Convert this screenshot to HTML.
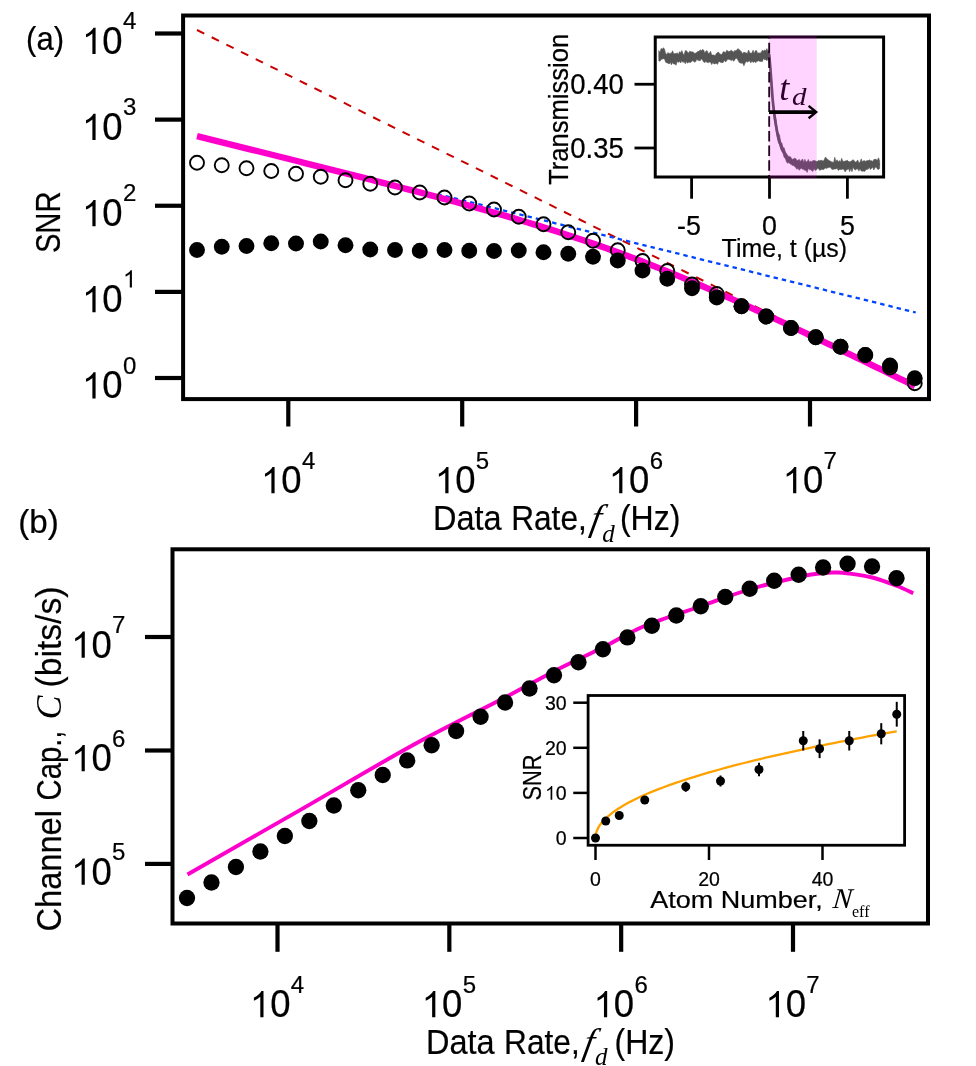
<!DOCTYPE html>
<html><head><meta charset="utf-8"><title>SNR and channel capacity vs data rate</title>
<style>
html,body{margin:0;padding:0;background:#fff;}
body{width:976px;height:1066px;overflow:hidden;font-family:"Liberation Sans",sans-serif;}
svg{display:block;will-change:transform;}
text{fill:#000;stroke:#000;stroke-width:0.22px;}
text.s{stroke-width:0;}
</style></head><body>
<svg width="976" height="1066" viewBox="0 0 976 1066">
<rect width="976" height="1066" fill="#fff"/>
<line x1="197" y1="30" x2="915" y2="385.59" stroke="#c80000" stroke-width="2" stroke-dasharray="8.1 8.28"/>
<line x1="915.75" y1="312.5" x2="440" y2="194.69" stroke="#0044ff" stroke-width="2.3" stroke-dasharray="4.4 4.05" stroke-dashoffset="1.6"/>
<polyline fill="none" stroke="#ff00cc" stroke-width="6.4" points="197,136.08 203,137.57 209,139.06 215,140.56 221,142.05 227,143.54 233,145.04 239,146.53 245,148.03 251,149.52 257,151.02 263,152.52 269,154.01 275,155.51 281,157.01 287,158.52 293,160.02 299,161.52 305,163.03 311,164.54 317,166.05 323,167.56 329,169.07 335,170.59 341,172.11 347,173.63 353,175.15 359,176.68 365,178.21 371,179.74 377,181.28 383,182.82 389,184.37 395,185.92 401,187.48 407,189.04 413,190.61 419,192.18 425,193.76 431,195.35 437,196.94 443,198.55 449,200.16 455,201.78 461,203.42 467,205.06 473,206.72 479,208.38 485,210.07 491,211.76 497,213.47 503,215.19 509,216.94 515,218.69 521,220.47 527,222.27 533,224.08 539,225.92 545,227.78 551,229.66 557,231.56 563,233.49 569,235.44 575,237.42 581,239.43 587,241.46 593,243.52 599,245.61 605,247.73 611,249.88 617,252.05 623,254.26 629,256.49 635,258.76 641,261.05 647,263.37 653,265.73 659,268.11 665,270.51 671,272.95 677,275.41 683,277.9 689,280.42 695,282.95 701,285.52 707,288.1 713,290.71 719,293.34 725,295.99 731,298.66 737,301.35 743,304.06 749,306.78 755,309.52 761,312.27 767,315.04 773,317.82 779,320.62 785,323.43 791,326.24 797,329.07 803,331.91 809,334.76 815,337.62 821,340.48 827,343.35 833,346.23 839,349.12 845,352.01 851,354.91 857,357.81 863,360.72 869,363.63 875,366.55 881,369.47 887,372.4 893,375.33 899,378.26 905,381.19 911,384.13 915,386.09"/>
<circle cx="197" cy="162.75" r="7.0" fill="none" stroke="#000" stroke-width="1.9"/>
<circle cx="221.75" cy="165.25" r="7.0" fill="none" stroke="#000" stroke-width="1.9"/>
<circle cx="246.5" cy="168.25" r="7.0" fill="none" stroke="#000" stroke-width="1.9"/>
<circle cx="271.25" cy="171" r="7.0" fill="none" stroke="#000" stroke-width="1.9"/>
<circle cx="296" cy="173.75" r="7.0" fill="none" stroke="#000" stroke-width="1.9"/>
<circle cx="320.75" cy="176.75" r="7.0" fill="none" stroke="#000" stroke-width="1.9"/>
<circle cx="345.5" cy="180.25" r="7.0" fill="none" stroke="#000" stroke-width="1.9"/>
<circle cx="370.25" cy="183.75" r="7.0" fill="none" stroke="#000" stroke-width="1.9"/>
<circle cx="395" cy="187.5" r="7.0" fill="none" stroke="#000" stroke-width="1.9"/>
<circle cx="419.75" cy="192.5" r="7.0" fill="none" stroke="#000" stroke-width="1.9"/>
<circle cx="444.5" cy="197.5" r="7.0" fill="none" stroke="#000" stroke-width="1.9"/>
<circle cx="469.25" cy="203.5" r="7.0" fill="none" stroke="#000" stroke-width="1.9"/>
<circle cx="494" cy="209.5" r="7.0" fill="none" stroke="#000" stroke-width="1.9"/>
<circle cx="518.75" cy="216.75" r="7.0" fill="none" stroke="#000" stroke-width="1.9"/>
<circle cx="543.5" cy="224.25" r="7.0" fill="none" stroke="#000" stroke-width="1.9"/>
<circle cx="568.25" cy="232.25" r="7.0" fill="none" stroke="#000" stroke-width="1.9"/>
<circle cx="593" cy="240.75" r="7.0" fill="none" stroke="#000" stroke-width="1.9"/>
<circle cx="617.75" cy="250.25" r="7.0" fill="none" stroke="#000" stroke-width="1.9"/>
<circle cx="642.5" cy="261" r="7.0" fill="none" stroke="#000" stroke-width="1.9"/>
<circle cx="667.25" cy="271" r="7.0" fill="none" stroke="#000" stroke-width="1.9"/>
<circle cx="692" cy="284.5" r="7.0" fill="none" stroke="#000" stroke-width="1.9"/>
<circle cx="716.75" cy="294" r="7.0" fill="none" stroke="#000" stroke-width="1.9"/>
<circle cx="741.5" cy="306.25" r="7.0" fill="none" stroke="#000" stroke-width="1.9"/>
<circle cx="766.25" cy="316.5" r="7.0" fill="none" stroke="#000" stroke-width="1.9"/>
<circle cx="791" cy="328" r="7.0" fill="none" stroke="#000" stroke-width="1.9"/>
<circle cx="815.75" cy="337.25" r="7.0" fill="none" stroke="#000" stroke-width="1.9"/>
<circle cx="840.5" cy="346.75" r="7.0" fill="none" stroke="#000" stroke-width="1.9"/>
<circle cx="865.25" cy="355" r="7.0" fill="none" stroke="#000" stroke-width="1.9"/>
<circle cx="890" cy="367.5" r="7.0" fill="none" stroke="#000" stroke-width="1.9"/>
<circle cx="914.75" cy="383.25" r="7.0" fill="none" stroke="#000" stroke-width="1.9"/>
<circle cx="197" cy="250" r="7.95" fill="#000"/>
<circle cx="221.75" cy="246.75" r="7.95" fill="#000"/>
<circle cx="246.5" cy="246" r="7.95" fill="#000"/>
<circle cx="271.25" cy="243.25" r="7.95" fill="#000"/>
<circle cx="296" cy="243.5" r="7.95" fill="#000"/>
<circle cx="320.75" cy="241.5" r="7.95" fill="#000"/>
<circle cx="345.5" cy="245.25" r="7.95" fill="#000"/>
<circle cx="370.25" cy="249.5" r="7.95" fill="#000"/>
<circle cx="395" cy="250" r="7.95" fill="#000"/>
<circle cx="419.75" cy="250.75" r="7.95" fill="#000"/>
<circle cx="444.5" cy="250" r="7.95" fill="#000"/>
<circle cx="469.25" cy="250.75" r="7.95" fill="#000"/>
<circle cx="494" cy="251" r="7.95" fill="#000"/>
<circle cx="518.75" cy="250.5" r="7.95" fill="#000"/>
<circle cx="543.5" cy="252.25" r="7.95" fill="#000"/>
<circle cx="568.25" cy="253.75" r="7.95" fill="#000"/>
<circle cx="593" cy="256.75" r="7.95" fill="#000"/>
<circle cx="617.75" cy="260.5" r="7.95" fill="#000"/>
<circle cx="642.5" cy="270.5" r="7.95" fill="#000"/>
<circle cx="667.25" cy="278.75" r="7.95" fill="#000"/>
<circle cx="692" cy="288.25" r="7.95" fill="#000"/>
<circle cx="716.75" cy="297.5" r="7.95" fill="#000"/>
<circle cx="741.5" cy="306.25" r="7.95" fill="#000"/>
<circle cx="766.25" cy="316.5" r="7.95" fill="#000"/>
<circle cx="791" cy="328" r="7.95" fill="#000"/>
<circle cx="815.75" cy="337.25" r="7.95" fill="#000"/>
<circle cx="840.5" cy="346.75" r="7.95" fill="#000"/>
<circle cx="865.25" cy="355" r="7.95" fill="#000"/>
<circle cx="890" cy="365.5" r="7.95" fill="#000"/>
<circle cx="914.75" cy="378.25" r="7.95" fill="#000"/>
<rect x="183.1" y="15.5" width="745.9" height="383.6" fill="none" stroke="#000" stroke-width="4.0"/>
<line x1="155" y1="378" x2="183.1" y2="378" stroke="#000" stroke-width="4.2" />
<path transform="translate(82 398.4) scale(0.01782 -0.01782)" d="M763 0H583V1147Q518 1085 412.5 1023Q307 961 223 930V1104Q374 1175 487 1276Q600 1377 647 1472H763Z"/>
<text x="102.29" y="398.4" font-family='"Liberation Sans", sans-serif' font-size="37.96" textLength="20.29" lengthAdjust="spacingAndGlyphs">0</text>
<text x="122.89" y="373.7" font-family='"Liberation Sans", sans-serif' font-size="24">0</text>
<line x1="155" y1="291.88" x2="183.1" y2="291.88" stroke="#000" stroke-width="4.2" />
<path transform="translate(82 312.27) scale(0.01782 -0.01782)" d="M763 0H583V1147Q518 1085 412.5 1023Q307 961 223 930V1104Q374 1175 487 1276Q600 1377 647 1472H763Z"/>
<text x="102.29" y="312.27" font-family='"Liberation Sans", sans-serif' font-size="37.96" textLength="20.29" lengthAdjust="spacingAndGlyphs">0</text>
<path transform="translate(122.89 287.57) scale(0.01184 -0.01184)" d="M763 0H583V1147Q518 1085 412.5 1023Q307 961 223 930V1104Q374 1175 487 1276Q600 1377 647 1472H763Z"/>
<line x1="155" y1="205.75" x2="183.1" y2="205.75" stroke="#000" stroke-width="4.2" />
<path transform="translate(82 226.15) scale(0.01782 -0.01782)" d="M763 0H583V1147Q518 1085 412.5 1023Q307 961 223 930V1104Q374 1175 487 1276Q600 1377 647 1472H763Z"/>
<text x="102.29" y="226.15" font-family='"Liberation Sans", sans-serif' font-size="37.96" textLength="20.29" lengthAdjust="spacingAndGlyphs">0</text>
<text x="122.89" y="201.45" font-family='"Liberation Sans", sans-serif' font-size="24">2</text>
<line x1="155" y1="119.62" x2="183.1" y2="119.62" stroke="#000" stroke-width="4.2" />
<path transform="translate(82 140.03) scale(0.01782 -0.01782)" d="M763 0H583V1147Q518 1085 412.5 1023Q307 961 223 930V1104Q374 1175 487 1276Q600 1377 647 1472H763Z"/>
<text x="102.29" y="140.03" font-family='"Liberation Sans", sans-serif' font-size="37.96" textLength="20.29" lengthAdjust="spacingAndGlyphs">0</text>
<text x="122.89" y="115.33" font-family='"Liberation Sans", sans-serif' font-size="24">3</text>
<line x1="155" y1="33.5" x2="183.1" y2="33.5" stroke="#000" stroke-width="4.2" />
<path transform="translate(82 53.9) scale(0.01782 -0.01782)" d="M763 0H583V1147Q518 1085 412.5 1023Q307 961 223 930V1104Q374 1175 487 1276Q600 1377 647 1472H763Z"/>
<text x="102.29" y="53.9" font-family='"Liberation Sans", sans-serif' font-size="37.96" textLength="20.29" lengthAdjust="spacingAndGlyphs">0</text>
<text x="122.89" y="29.2" font-family='"Liberation Sans", sans-serif' font-size="24">4</text>
<line x1="288.3" y1="399.1" x2="288.3" y2="426.5" stroke="#000" stroke-width="4.2" />
<path transform="translate(261 493.3) scale(0.01782 -0.01782)" d="M763 0H583V1147Q518 1085 412.5 1023Q307 961 223 930V1104Q374 1175 487 1276Q600 1377 647 1472H763Z"/>
<text x="281.29" y="493.3" font-family='"Liberation Sans", sans-serif' font-size="37.96" textLength="20.29" lengthAdjust="spacingAndGlyphs">0</text>
<text x="301.89" y="468.6" font-family='"Liberation Sans", sans-serif' font-size="24">4</text>
<line x1="462.2" y1="399.1" x2="462.2" y2="426.5" stroke="#000" stroke-width="4.2" />
<path transform="translate(434.9 493.3) scale(0.01782 -0.01782)" d="M763 0H583V1147Q518 1085 412.5 1023Q307 961 223 930V1104Q374 1175 487 1276Q600 1377 647 1472H763Z"/>
<text x="455.19" y="493.3" font-family='"Liberation Sans", sans-serif' font-size="37.96" textLength="20.29" lengthAdjust="spacingAndGlyphs">0</text>
<text x="475.79" y="468.6" font-family='"Liberation Sans", sans-serif' font-size="24">5</text>
<line x1="636.1" y1="399.1" x2="636.1" y2="426.5" stroke="#000" stroke-width="4.2" />
<path transform="translate(608.8 493.3) scale(0.01782 -0.01782)" d="M763 0H583V1147Q518 1085 412.5 1023Q307 961 223 930V1104Q374 1175 487 1276Q600 1377 647 1472H763Z"/>
<text x="629.09" y="493.3" font-family='"Liberation Sans", sans-serif' font-size="37.96" textLength="20.29" lengthAdjust="spacingAndGlyphs">0</text>
<text x="649.69" y="468.6" font-family='"Liberation Sans", sans-serif' font-size="24">6</text>
<line x1="810" y1="399.1" x2="810" y2="426.5" stroke="#000" stroke-width="4.2" />
<path transform="translate(782.7 493.3) scale(0.01782 -0.01782)" d="M763 0H583V1147Q518 1085 412.5 1023Q307 961 223 930V1104Q374 1175 487 1276Q600 1377 647 1472H763Z"/>
<text x="802.99" y="493.3" font-family='"Liberation Sans", sans-serif' font-size="37.96" textLength="20.29" lengthAdjust="spacingAndGlyphs">0</text>
<text x="823.59" y="468.6" font-family='"Liberation Sans", sans-serif' font-size="24">7</text>
<text x="26.1" y="50" font-family='"Liberation Sans", sans-serif' font-size="33.5" textLength="38" lengthAdjust="spacingAndGlyphs">(a)</text>
<text transform="translate(59.5 253.1) rotate(-90)" font-family='"Liberation Sans", sans-serif' font-size="35.7" textLength="61.6" lengthAdjust="spacingAndGlyphs">SNR</text>
<text x="433" y="529.7" font-family='"Liberation Sans", sans-serif' font-size="34.9" textLength="68.7" lengthAdjust="spacingAndGlyphs">Data</text>
<text x="511.2" y="529.7" font-family='"Liberation Sans", sans-serif' font-size="34.9" textLength="75.6" lengthAdjust="spacingAndGlyphs">Rate,</text>
<text transform="translate(589.1 529.7) skewX(-11)" class="s" font-family='"Liberation Serif", serif' font-style="italic" font-size="37">f</text>
<text x="602.2" y="541.5" font-family='"Liberation Serif", serif' font-size="25" class="s" font-style="italic">d</text>
<text x="619.9" y="529.7" font-family='"Liberation Sans", sans-serif' font-size="34.9" textLength="60.5" lengthAdjust="spacingAndGlyphs">(Hz)</text>
<polygon fill="#555" stroke="#555" stroke-width="0.6" stroke-linejoin="round" points="658.8,50.57 659.95,52.56 661.1,48.45 662.25,49.25 663.4,47.71 664.55,49.24 665.7,53.98 666.85,54.2 668,52.41 669.15,53.85 670.3,53.14 671.45,53.19 672.6,50.73 673.75,53.99 674.9,53.38 676.05,53.81 677.2,52.66 678.35,54.5 679.5,51.71 680.65,52.74 681.8,50.56 682.95,53.59 684.1,54.99 685.25,50.64 686.4,50.87 687.55,51.92 688.7,53.25 689.85,50.97 691,52.06 692.15,51.66 693.3,52.19 694.45,53.18 695.6,53.15 696.75,52.41 697.9,51.23 699.05,51.53 700.2,49.79 701.35,50.7 702.5,49.61 703.65,49.97 704.8,53.18 705.95,51.11 707.1,50.76 708.25,53.43 709.4,53.26 710.55,51.24 711.7,55.02 712.85,55.07 714,55.03 715.15,55.75 716.3,53.6 717.45,52.46 718.6,52.16 719.75,53.72 720.9,54.45 722.05,54.3 723.2,51.77 724.35,51.76 725.5,53.08 726.65,50.31 727.8,50.9 728.95,51.68 730.1,51.09 731.25,50.3 732.4,50.98 733.55,52.18 734.7,50.52 735.85,50.75 737,49.72 738.15,48.61 739.3,49.92 740.45,50.71 741.6,52.12 742.75,53.98 743.9,51.97 745.05,52.85 746.2,52.72 747.35,53.83 748.5,50.01 749.65,52.52 750.8,53.3 751.95,53.08 753.1,50.14 754.25,53.43 755.4,50.78 756.55,50.61 757.7,53.57 758.85,52.74 760,53.25 761.15,52.48 762.3,50.24 763.45,51.08 764.6,50.02 765.75,50.81 766.9,48.61 768.05,51.75 769.2,49.8 770.35,65.24 771.5,77.87 772.65,96.55 773.8,106.83 774.95,113.43 776.1,119.84 777.25,129.72 778.4,133.1 779.55,135.1 780.7,142.52 781.85,142.88 783,147.69 784.15,147.67 785.3,151.82 786.45,153.72 787.6,155.16 788.75,156.71 789.9,156.46 791.05,157.47 792.2,159.46 793.35,158.99 794.5,158.22 795.65,158.53 796.8,160.17 797.95,160.6 799.1,159.34 800.25,161.33 801.4,160.22 802.55,159.02 803.7,162.43 804.85,159.32 806,161.9 807.15,161.83 808.3,159.42 809.45,162.05 810.6,161.22 811.75,161.8 812.9,160.52 814.05,160.54 815.2,160.8 816.35,161.38 817.5,161.33 818.65,160.28 819.8,160.85 820.95,160.21 822.1,160.54 823.25,161.27 824.4,159.32 825.55,156.96 826.7,158.85 827.85,159.46 829,160.43 830.15,161.05 831.3,161.72 832.45,161.88 833.6,162.77 834.75,157.22 835.9,161.53 837.05,159.8 838.2,161.95 839.35,160.59 840.5,162.18 841.65,158.34 842.8,161.28 843.95,161.51 845.1,161.05 846.25,160.82 847.4,160.33 848.55,161.53 849.7,161.72 850.85,161.5 852,160.41 853.15,159.82 854.3,160.77 855.45,162.26 856.6,161.52 857.75,159.91 858.9,163.1 860.05,162.34 861.2,158.86 862.35,162 863.5,160.66 864.65,160.71 865.8,161.42 866.95,160.49 868.1,160.82 869.25,159.77 870.4,160.64 871.55,160.64 872.7,161.4 873.85,159.5 875,159.34 876.15,159.33 877.3,160.6 878.45,157.77 879.6,160.75 879.6,168.59 878.45,169.45 877.3,168.88 876.15,167 875,167.39 873.85,170.04 872.7,167.23 871.55,168.16 870.4,169.52 869.25,167.32 868.1,169.15 866.95,169.24 865.8,169.84 864.65,171.42 863.5,171.12 862.35,171.13 861.2,170.94 860.05,168.79 858.9,171.11 857.75,168.84 856.6,169.09 855.45,170.03 854.3,169.28 853.15,167.2 852,171.72 850.85,168.42 849.7,171.77 848.55,168.65 847.4,169.56 846.25,170.02 845.1,171.9 843.95,169.49 842.8,168.99 841.65,169.48 840.5,169.56 839.35,169.45 838.2,170.39 837.05,168 835.9,169.05 834.75,168.89 833.6,169.22 832.45,169.49 831.3,168.8 830.15,166.72 829,167.67 827.85,167.59 826.7,168.56 825.55,168.12 824.4,168.79 823.25,169.67 822.1,169.36 820.95,169.56 819.8,170.43 818.65,168.87 817.5,168.34 816.35,169.97 815.2,170.41 814.05,168.58 812.9,171.47 811.75,170.46 810.6,169.83 809.45,169.53 808.3,168.55 807.15,172.43 806,170.22 804.85,170.54 803.7,169.23 802.55,169.28 801.4,168.13 800.25,169.1 799.1,170.2 797.95,168.13 796.8,169.31 795.65,167.35 794.5,166.57 793.35,165.26 792.2,165.53 791.05,164.33 789.9,163.66 788.75,162.44 787.6,163.31 786.45,161.78 785.3,158.33 784.15,157.49 783,153.39 781.85,151.43 780.7,148.93 779.55,144.3 778.4,142.67 777.25,137.61 776.1,130.71 774.95,123.67 773.8,113.57 772.65,104.49 771.5,86.39 770.35,71.5 769.2,59.01 768.05,58.64 766.9,60.8 765.75,59.53 764.6,59.64 763.45,58.53 762.3,61.66 761.15,61.15 760,61.49 758.85,60.71 757.7,61.06 756.55,61.87 755.4,62.61 754.25,61.5 753.1,62.55 751.95,60.71 750.8,62.93 749.65,60.84 748.5,61.48 747.35,62.12 746.2,61.2 745.05,63.07 743.9,65.86 742.75,63.01 741.6,63.23 740.45,63.06 739.3,62.56 738.15,60.46 737,58.47 735.85,57.9 734.7,59.94 733.55,61.33 732.4,59.53 731.25,60.67 730.1,59.6 728.95,59.54 727.8,58.97 726.65,60.75 725.5,62.02 724.35,60.02 723.2,62.48 722.05,62.61 720.9,62.62 719.75,61.66 718.6,61.8 717.45,64.41 716.3,63.23 715.15,63.78 714,63.99 712.85,62.4 711.7,64.6 710.55,62.24 709.4,61.99 708.25,62.79 707.1,62.28 705.95,61.62 704.8,62.49 703.65,61.99 702.5,60.05 701.35,58.68 700.2,60.79 699.05,60.56 697.9,60.32 696.75,59.29 695.6,61.8 694.45,62.11 693.3,61.06 692.15,60.83 691,62.26 689.85,62.46 688.7,61.97 687.55,63.26 686.4,61.49 685.25,63.81 684.1,61.42 682.95,62.52 681.8,60.38 680.65,63 679.5,61.29 678.35,62.52 677.2,61.03 676.05,65.3 674.9,63.99 673.75,64.02 672.6,62.49 671.45,64.8 670.3,62.34 669.15,64 668,63.13 666.85,62.73 665.7,62.34 664.55,58.88 663.4,58.7 662.25,59.06 661.1,59.48 659.95,61.29 658.8,60.76"/>
<polyline fill="none" stroke="#555" stroke-width="2.7" stroke-linejoin="round" points="658.8,55.74 659.95,55.74 661.1,55.74 662.25,55.24 663.4,55.24 664.55,55.24 665.7,57.83 666.85,57.83 668,57.83 669.15,57.12 670.3,57.12 671.45,57.12 672.6,58.44 673.75,58.44 674.9,58.44 676.05,57.83 677.2,57.83 678.35,57.83 679.5,56.22 680.65,56.22 681.8,56.22 682.95,58.24 684.1,58.24 685.25,58.24 686.4,57.62 687.55,57.62 688.7,57.62 689.85,56.79 691,56.79 692.15,56.79 693.3,57.01 694.45,57.01 695.6,57.01 696.75,55.54 697.9,55.54 699.05,55.54 700.2,55.15 701.35,55.15 702.5,55.15 703.65,57.38 704.8,57.38 705.95,57.38 707.1,57.35 708.25,57.35 709.4,57.35 710.55,58.42 711.7,58.42 712.85,58.42 714,59.22 715.15,59.22 716.3,59.22 717.45,57.58 718.6,57.58 719.75,57.58 720.9,58.23 722.05,58.23 723.2,58.23 724.35,56.89 725.5,56.89 726.65,56.89 727.8,55.57 728.95,55.57 730.1,55.57 731.25,56.39 732.4,56.39 733.55,56.39 734.7,54.62 735.85,54.62 737,54.62 738.15,55.94 739.3,55.94 740.45,55.94 741.6,59.56 742.75,59.56 743.9,59.56 745.05,57.75 746.2,57.75 747.35,57.75 748.5,57.06 749.65,57.06 750.8,57.06 751.95,57.15 753.1,57.15 754.25,57.15 755.4,57.04 756.55,57.04 757.7,57.04 758.85,56.71 760,56.71 761.15,56.71 762.3,55.43 763.45,55.43 764.6,55.43 765.75,55.46 766.9,55.46 768.05,55.46 769.2,54.69 770.35,68.14 771.5,83.73 772.65,99.36 773.8,110.24 774.95,119.33 776.1,126.09 777.25,132.43 778.4,137.74 779.55,141.57 780.7,145.27 781.85,148.37 783,150.51 784.15,152.66 785.3,154.47 786.45,157.3 787.6,158.56 788.75,159.61 789.9,160.84 791.05,161.58 792.2,162.19 793.35,161.84 794.5,162.27 795.65,162.63 796.8,164.6 797.95,164.85 799.1,165.06 800.25,164.27 801.4,164.41 802.55,164.53 803.7,165.47 804.85,165.56 806,165.63 807.15,165.82 808.3,165.87 809.45,165.91 810.6,165.28 811.75,165.31 812.9,165.33 814.05,165.72 815.2,165.74 816.35,165.75 817.5,165.26 818.65,165.27 819.8,165.28 820.95,165.21 822.1,165.22 823.25,165.23 824.4,163.77 825.55,163.78 826.7,163.78 827.85,163.65 829,163.65 830.15,163.65 831.3,165.92 832.45,165.92 833.6,165.92 834.75,164.29 835.9,164.29 837.05,164.29 838.2,165.28 839.35,165.28 840.5,165.28 841.65,164.71 842.8,164.71 843.95,164.71 845.1,165.33 846.25,165.33 847.4,165.33 848.55,165.51 849.7,165.51 850.85,165.51 852,164.29 853.15,164.3 854.3,164.3 855.45,165.62 856.6,165.62 857.75,165.62 858.9,165.95 860.05,165.95 861.2,165.95 862.35,165.79 863.5,165.79 864.65,165.79 865.8,165.57 866.95,165.57 868.1,165.57 869.25,164.34 870.4,164.34 871.55,164.34 872.7,164.44 873.85,164.44 875,164.44 876.15,164.32 877.3,164.32 878.45,164.32 879.6,165.03"/>
<line x1="769.2" y1="37" x2="769.2" y2="177" stroke="#000" stroke-width="1.8" stroke-dasharray="10.5 4.2" stroke-dashoffset="9"/>
<rect x="655.25" y="37" width="228.35" height="140" fill="none" stroke="#000" stroke-width="3"/>
<line x1="634.5" y1="84.25" x2="655.25" y2="84.25" stroke="#000" stroke-width="2.8" />
<text x="570.3" y="94.35" font-family='"Liberation Sans", sans-serif' font-size="28.6" textLength="53.6" lengthAdjust="spacingAndGlyphs">0.40</text>
<line x1="634.5" y1="148" x2="655.25" y2="148" stroke="#000" stroke-width="2.8" />
<text x="570.3" y="158.1" font-family='"Liberation Sans", sans-serif' font-size="28.6" textLength="53.6" lengthAdjust="spacingAndGlyphs">0.35</text>
<line x1="691.6" y1="177" x2="691.6" y2="198.7" stroke="#000" stroke-width="2.8" />
<text x="689" y="234.8" font-family='"Liberation Sans", sans-serif' font-size="26.8" text-anchor="middle">-5</text>
<line x1="769.5" y1="177" x2="769.5" y2="198.7" stroke="#000" stroke-width="2.8" />
<text x="769.5" y="234.8" font-family='"Liberation Sans", sans-serif' font-size="26.8" text-anchor="middle">0</text>
<line x1="847.4" y1="177" x2="847.4" y2="198.7" stroke="#000" stroke-width="2.8" />
<text x="847.4" y="234.8" font-family='"Liberation Sans", sans-serif' font-size="26.8" text-anchor="middle">5</text>
<text x="721.6" y="256.7" font-family='"Liberation Sans", sans-serif' font-size="26.2" textLength="125.5" lengthAdjust="spacingAndGlyphs">Time, t (µs)</text>
<text transform="translate(567.8 184.8) rotate(-90)" font-family='"Liberation Sans", sans-serif' font-size="27.2" textLength="151" lengthAdjust="spacingAndGlyphs">Transmission</text>
<text x="779.3" y="100.3" font-family='"Liberation Serif", serif' font-size="36" class="s" font-style="italic">t</text>
<text x="792" y="105.3" font-family='"Liberation Serif", serif' font-size="26" class="s" font-style="italic" textLength="14.5" lengthAdjust="spacingAndGlyphs">d</text>
<rect x="769" y="35.5" width="47.75" height="143" fill="#ff00ff" fill-opacity="0.17"/>
<line x1="769" y1="112.1" x2="815.2" y2="112.1" stroke="#000" stroke-width="3.8" />
<polyline fill="none" stroke="#000" stroke-width="2.4" stroke-linejoin="miter" points="808.6,105.9 816.2,112.1 808.6,118.3"/>
<path fill="none" stroke="#ff00cc" stroke-width="3.9" d="M187.5 874.5 C206.25 863.77 262.25 831.77 300 810.1 C337.75 788.43 379.83 763.27 414 744.5 C448.17 725.73 481.62 709.71 505 697.5 C528.38 685.29 537.96 679.58 554.25 671.25 C570.54 662.92 587.79 655 602.75 647.5 C617.71 640 627.67 633.12 644 626.25 C660.33 619.38 683.21 612.38 700.75 606.25 C718.29 600.12 732.96 594.38 749.25 589.5 C765.54 584.62 786.21 579.75 798.5 577 C810.79 574.25 816.58 573.75 823 573 C829.42 572.25 832.96 572.46 837 572.5 C841.04 572.54 841.38 572.42 847.25 573.25 C853.12 574.08 864.04 575.42 872.25 577.5 C880.46 579.58 889.67 583.12 896.5 585.75 C903.33 588.38 910.46 592 913.25 593.25"/>
<circle cx="187" cy="898" r="8.15" fill="#000"/>
<circle cx="211.47" cy="882.5" r="8.15" fill="#000"/>
<circle cx="235.93" cy="867" r="8.15" fill="#000"/>
<circle cx="260.4" cy="851.5" r="8.15" fill="#000"/>
<circle cx="284.86" cy="836" r="8.15" fill="#000"/>
<circle cx="309.33" cy="821" r="8.15" fill="#000"/>
<circle cx="333.8" cy="805.5" r="8.15" fill="#000"/>
<circle cx="358.26" cy="790.25" r="8.15" fill="#000"/>
<circle cx="382.73" cy="775" r="8.15" fill="#000"/>
<circle cx="407.19" cy="760.4" r="8.15" fill="#000"/>
<circle cx="431.66" cy="745.25" r="8.15" fill="#000"/>
<circle cx="456.13" cy="731" r="8.15" fill="#000"/>
<circle cx="480.59" cy="716.75" r="8.15" fill="#000"/>
<circle cx="505.06" cy="702.5" r="8.15" fill="#000"/>
<circle cx="529.52" cy="688.5" r="8.15" fill="#000"/>
<circle cx="553.99" cy="675.25" r="8.15" fill="#000"/>
<circle cx="578.46" cy="662.25" r="8.15" fill="#000"/>
<circle cx="602.92" cy="649.25" r="8.15" fill="#000"/>
<circle cx="627.39" cy="637.4" r="8.15" fill="#000"/>
<circle cx="651.85" cy="625.75" r="8.15" fill="#000"/>
<circle cx="676.32" cy="615.5" r="8.15" fill="#000"/>
<circle cx="700.79" cy="606.25" r="8.15" fill="#000"/>
<circle cx="725.25" cy="597" r="8.15" fill="#000"/>
<circle cx="749.72" cy="588.75" r="8.15" fill="#000"/>
<circle cx="774.18" cy="580.75" r="8.15" fill="#000"/>
<circle cx="798.65" cy="574.75" r="8.15" fill="#000"/>
<circle cx="823.12" cy="567.5" r="8.15" fill="#000"/>
<circle cx="847.58" cy="563.75" r="8.15" fill="#000"/>
<circle cx="872.05" cy="566.5" r="8.15" fill="#000"/>
<circle cx="896.51" cy="578.25" r="8.15" fill="#000"/>
<rect x="172.5" y="549.3" width="755.5" height="374.2" fill="none" stroke="#000" stroke-width="4.0"/>
<line x1="145" y1="863.9" x2="172.5" y2="863.9" stroke="#000" stroke-width="4.2" />
<path transform="translate(71.2 884.7) scale(0.01782 -0.01782)" d="M763 0H583V1147Q518 1085 412.5 1023Q307 961 223 930V1104Q374 1175 487 1276Q600 1377 647 1472H763Z"/>
<text x="91.49" y="884.7" font-family='"Liberation Sans", sans-serif' font-size="37.96" textLength="20.29" lengthAdjust="spacingAndGlyphs">0</text>
<text x="112.09" y="860" font-family='"Liberation Sans", sans-serif' font-size="24">5</text>
<line x1="145" y1="750.5" x2="172.5" y2="750.5" stroke="#000" stroke-width="4.2" />
<path transform="translate(71.2 771.3) scale(0.01782 -0.01782)" d="M763 0H583V1147Q518 1085 412.5 1023Q307 961 223 930V1104Q374 1175 487 1276Q600 1377 647 1472H763Z"/>
<text x="91.49" y="771.3" font-family='"Liberation Sans", sans-serif' font-size="37.96" textLength="20.29" lengthAdjust="spacingAndGlyphs">0</text>
<text x="112.09" y="746.6" font-family='"Liberation Sans", sans-serif' font-size="24">6</text>
<line x1="145" y1="637" x2="172.5" y2="637" stroke="#000" stroke-width="4.2" />
<path transform="translate(71.2 657.8) scale(0.01782 -0.01782)" d="M763 0H583V1147Q518 1085 412.5 1023Q307 961 223 930V1104Q374 1175 487 1276Q600 1377 647 1472H763Z"/>
<text x="91.49" y="657.8" font-family='"Liberation Sans", sans-serif' font-size="37.96" textLength="20.29" lengthAdjust="spacingAndGlyphs">0</text>
<text x="112.09" y="633.1" font-family='"Liberation Sans", sans-serif' font-size="24">7</text>
<line x1="277.51" y1="923.5" x2="277.51" y2="951.8" stroke="#000" stroke-width="4.2" />
<path transform="translate(249.91 1017.3) scale(0.01782 -0.01782)" d="M763 0H583V1147Q518 1085 412.5 1023Q307 961 223 930V1104Q374 1175 487 1276Q600 1377 647 1472H763Z"/>
<text x="270.2" y="1017.3" font-family='"Liberation Sans", sans-serif' font-size="37.96" textLength="20.29" lengthAdjust="spacingAndGlyphs">0</text>
<text x="290.8" y="992.6" font-family='"Liberation Sans", sans-serif' font-size="24">4</text>
<line x1="449.34" y1="923.5" x2="449.34" y2="951.8" stroke="#000" stroke-width="4.2" />
<path transform="translate(421.74 1017.3) scale(0.01782 -0.01782)" d="M763 0H583V1147Q518 1085 412.5 1023Q307 961 223 930V1104Q374 1175 487 1276Q600 1377 647 1472H763Z"/>
<text x="442.03" y="1017.3" font-family='"Liberation Sans", sans-serif' font-size="37.96" textLength="20.29" lengthAdjust="spacingAndGlyphs">0</text>
<text x="462.63" y="992.6" font-family='"Liberation Sans", sans-serif' font-size="24">5</text>
<line x1="621.17" y1="923.5" x2="621.17" y2="951.8" stroke="#000" stroke-width="4.2" />
<path transform="translate(593.57 1017.3) scale(0.01782 -0.01782)" d="M763 0H583V1147Q518 1085 412.5 1023Q307 961 223 930V1104Q374 1175 487 1276Q600 1377 647 1472H763Z"/>
<text x="613.86" y="1017.3" font-family='"Liberation Sans", sans-serif' font-size="37.96" textLength="20.29" lengthAdjust="spacingAndGlyphs">0</text>
<text x="634.46" y="992.6" font-family='"Liberation Sans", sans-serif' font-size="24">6</text>
<line x1="793" y1="923.5" x2="793" y2="951.8" stroke="#000" stroke-width="4.2" />
<path transform="translate(765.4 1017.3) scale(0.01782 -0.01782)" d="M763 0H583V1147Q518 1085 412.5 1023Q307 961 223 930V1104Q374 1175 487 1276Q600 1377 647 1472H763Z"/>
<text x="785.69" y="1017.3" font-family='"Liberation Sans", sans-serif' font-size="37.96" textLength="20.29" lengthAdjust="spacingAndGlyphs">0</text>
<text x="806.29" y="992.6" font-family='"Liberation Sans", sans-serif' font-size="24">7</text>
<text x="18.3" y="532.5" font-family='"Liberation Sans", sans-serif' font-size="33.5" textLength="40.6" lengthAdjust="spacingAndGlyphs">(b)</text>
<text transform="translate(61.2 931.5) rotate(-90)" font-family='"Liberation Sans", sans-serif' font-size="35.5" textLength="121.5" lengthAdjust="spacingAndGlyphs">Channel</text>
<text transform="translate(61.2 800.5) rotate(-90)" font-family='"Liberation Sans", sans-serif' font-size="35.5" textLength="70" lengthAdjust="spacingAndGlyphs">Cap.,</text>
<text transform="translate(61.4 719.6) rotate(-90)" font-family='"Liberation Serif", serif' font-size="36" class="s" font-style="italic">C</text>
<text transform="translate(61.2 687.5) rotate(-90)" font-family='"Liberation Sans", sans-serif' font-size="35.5" textLength="101" lengthAdjust="spacingAndGlyphs">(bits/s)</text>
<text x="425.9" y="1053.5" font-family='"Liberation Sans", sans-serif' font-size="34.9" textLength="68.7" lengthAdjust="spacingAndGlyphs">Data</text>
<text x="504.1" y="1053.5" font-family='"Liberation Sans", sans-serif' font-size="34.9" textLength="75.6" lengthAdjust="spacingAndGlyphs">Rate,</text>
<text transform="translate(582 1053.5) skewX(-11)" class="s" font-family='"Liberation Serif", serif' font-style="italic" font-size="37">f</text>
<text x="595.1" y="1065.3" font-family='"Liberation Serif", serif' font-size="25" class="s" font-style="italic">d</text>
<text x="614.5" y="1053.5" font-family='"Liberation Sans", sans-serif' font-size="34.9" textLength="60.5" lengthAdjust="spacingAndGlyphs">(Hz)</text>
<polyline fill="none" stroke="#ffa200" stroke-width="2.3" points="595.5,838 596.07,833.36 596.63,831.44 597.2,829.97 597.77,828.73 598.34,827.64 598.9,826.65 599.47,825.74 600.04,824.89 600.61,824.09 601.17,823.34 601.74,822.63 602.31,821.94 602.88,821.29 603.45,820.66 604.01,820.05 604.58,819.46 605.15,818.89 605.72,818.33 606.28,817.8 606.85,817.27 612.52,812.61 618.2,808.68 623.88,805.22 629.55,802.1 635.23,799.22 640.9,796.54 646.58,794.03 652.25,791.65 657.92,789.39 663.6,787.22 669.27,785.15 674.95,783.16 680.62,781.23 686.3,779.37 691.98,777.57 697.65,775.81 703.33,774.11 709,772.45 714.67,770.83 720.35,769.25 726.02,767.71 731.7,766.19 737.38,764.71 743.05,763.26 748.73,761.84 754.4,760.44 760.08,759.07 765.75,757.72 771.42,756.39 777.1,755.08 782.77,753.8 788.45,752.53 794.12,751.29 799.8,750.06 805.48,748.84 811.15,747.65 816.83,746.46 822.5,745.3 828.17,744.15 833.85,743.01 839.52,741.88 845.2,740.77 850.88,739.67 856.55,738.59 862.22,737.51 867.9,736.45 873.58,735.4 879.25,734.36 884.92,733.32 890.6,732.3 896.27,731.29 896.73,731.21"/>
<circle cx="595.5" cy="838" r="4.5" fill="#000"/>
<circle cx="605.75" cy="821" r="4.5" fill="#000"/>
<circle cx="619.25" cy="815.5" r="4.5" fill="#000"/>
<line x1="644.75" y1="797" x2="644.75" y2="803" stroke="#000" stroke-width="2" />
<circle cx="644.75" cy="800" r="4.5" fill="#000"/>
<line x1="685.75" y1="781.75" x2="685.75" y2="791.75" stroke="#000" stroke-width="2" />
<circle cx="685.75" cy="786.75" r="4.5" fill="#000"/>
<line x1="720.5" y1="775.5" x2="720.5" y2="786.5" stroke="#000" stroke-width="2" />
<circle cx="720.5" cy="781" r="4.5" fill="#000"/>
<line x1="759" y1="762.75" x2="759" y2="776.25" stroke="#000" stroke-width="2" />
<circle cx="759" cy="769.5" r="4.5" fill="#000"/>
<line x1="803.25" y1="731" x2="803.25" y2="750.5" stroke="#000" stroke-width="2" />
<circle cx="803.25" cy="740.75" r="4.5" fill="#000"/>
<line x1="819.6" y1="739.35" x2="819.6" y2="758.15" stroke="#000" stroke-width="2" />
<circle cx="819.6" cy="748.75" r="4.5" fill="#000"/>
<line x1="849.25" y1="731" x2="849.25" y2="750.5" stroke="#000" stroke-width="2" />
<circle cx="849.25" cy="740.75" r="4.5" fill="#000"/>
<line x1="881.25" y1="723.15" x2="881.25" y2="744.35" stroke="#000" stroke-width="2" />
<circle cx="881.25" cy="733.75" r="4.5" fill="#000"/>
<line x1="896.75" y1="701.85" x2="896.75" y2="726.65" stroke="#000" stroke-width="2" />
<circle cx="896.75" cy="714.25" r="4.5" fill="#000"/>
<rect x="588.1" y="695.5" width="316.5" height="149.75" fill="none" stroke="#000" stroke-width="2.8"/>
<line x1="573.25" y1="838" x2="588.1" y2="838" stroke="#000" stroke-width="2.5" />
<text x="566.6" y="844.9" font-family='"Liberation Sans", sans-serif' font-size="19.5" text-anchor="end">0</text>
<line x1="573.25" y1="792.9" x2="588.1" y2="792.9" stroke="#000" stroke-width="2.5" />
<text x="566.6" y="799.8" font-family='"Liberation Sans", sans-serif' font-size="19.5" text-anchor="end">0</text>
<path transform="translate(545.12 799.8) scale(0.00937 -0.00937)" d="M763 0H583V1147Q518 1085 412.5 1023Q307 961 223 930V1104Q374 1175 487 1276Q600 1377 647 1472H763Z"/>
<line x1="573.25" y1="747.8" x2="588.1" y2="747.8" stroke="#000" stroke-width="2.5" />
<text x="566.6" y="754.7" font-family='"Liberation Sans", sans-serif' font-size="19.5" text-anchor="end">20</text>
<line x1="573.25" y1="702.7" x2="588.1" y2="702.7" stroke="#000" stroke-width="2.5" />
<text x="566.6" y="709.6" font-family='"Liberation Sans", sans-serif' font-size="19.5" text-anchor="end">30</text>
<line x1="595.5" y1="845.25" x2="595.5" y2="860" stroke="#000" stroke-width="2.5" />
<text x="595.5" y="886.2" font-family='"Liberation Sans", sans-serif' font-size="19.5" text-anchor="middle">0</text>
<line x1="709" y1="845.25" x2="709" y2="860" stroke="#000" stroke-width="2.5" />
<text x="709" y="886.2" font-family='"Liberation Sans", sans-serif' font-size="19.5" text-anchor="middle">20</text>
<line x1="822.5" y1="845.25" x2="822.5" y2="860" stroke="#000" stroke-width="2.5" />
<text x="822.5" y="886.2" font-family='"Liberation Sans", sans-serif' font-size="19.5" text-anchor="middle">40</text>
<text transform="translate(541.3 800.5) rotate(-90)" font-family='"Liberation Sans", sans-serif' font-size="25" textLength="46" lengthAdjust="spacingAndGlyphs">SNR</text>
<text x="650.3" y="908" font-family='"Liberation Sans", sans-serif' font-size="24.3" textLength="172.5" lengthAdjust="spacingAndGlyphs">Atom Number,</text>
<text transform="translate(832.2 908) skewX(-6)" class="s" font-family='"Liberation Serif", serif' font-style="italic" font-size="28.5">N</text>
<text x="852" y="916.6" font-family='"Liberation Serif", serif' font-size="16" class="s">eff</text>
</svg>
</body></html>
